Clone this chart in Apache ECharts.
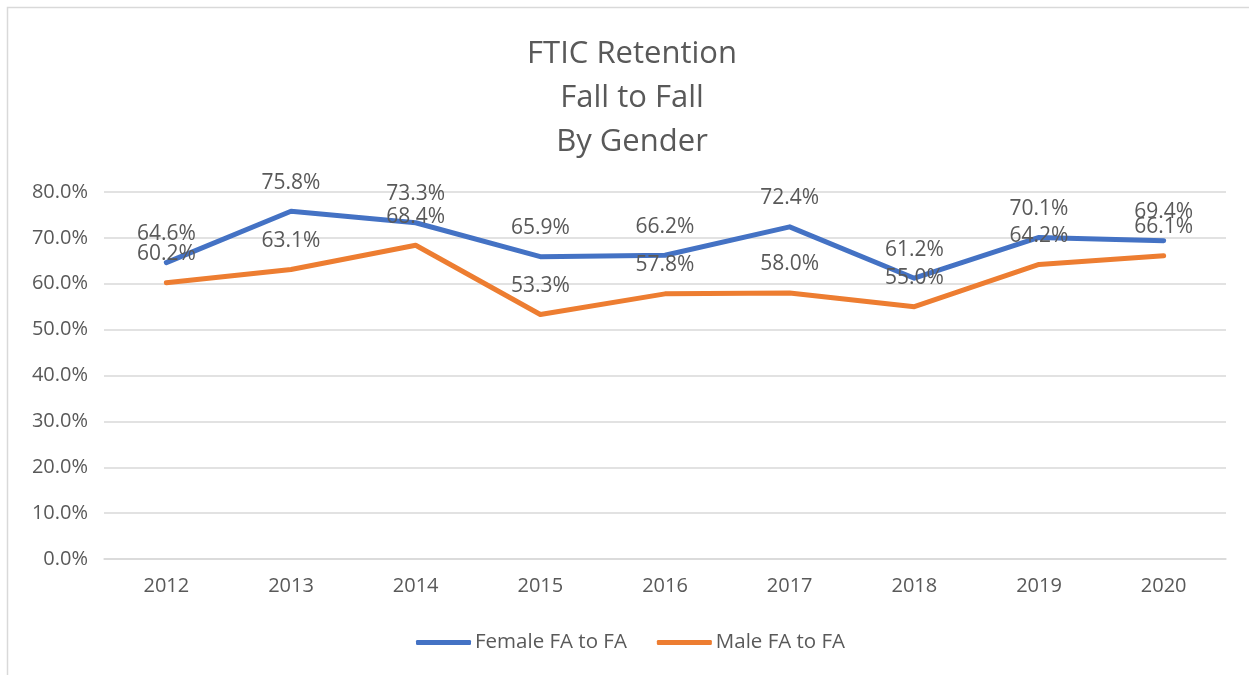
<!DOCTYPE html>
<html>
<head>
<meta charset="utf-8">
<title>FTIC Retention</title>
<script src="https://cdn.jsdelivr.net/npm/echarts@6/dist/echarts.min.js"></script>
<style>
  html, body { margin: 0; padding: 0; background: #fff; }
  #chart { width: 1249px; height: 675px; }
</style>
</head>
<body>
<div id="chart"></div>
<script>
const years = ['2012', '2013', '2014', '2015', '2016', '2017', '2018', '2019', '2020']
const female = [64.6, 75.8, 73.3, 65.9, 66.2, 72.4, 61.2, 70.1, 69.4]
const male = [60.2, 63.1, 68.4, 53.3, 57.8, 58.0, 55.0, 64.2, 66.1]
const seriesNames = ['Female FA to FA', 'Male FA to FA']
const titleLines = ['FTIC Retention', 'Fall to Fall', 'By Gender']

const textColor = '#595959'
const font = '"Open Sans", "Liberation Sans", sans-serif'

function lineSeries(name, data, color) {
  return {
    name,
    type: 'line',
    data,
    // labels hang off the symbols, so keep them but make them invisible
    symbol: 'circle',
    symbolSize: 0,
    showSymbol: true,
    lineStyle: { width: 5, color, cap: 'round', join: 'round' },
    itemStyle: { color },
    label: {
      show: true,
      position: 'top',
      distance: 18,
      color: textColor,
      fontFamily: font,
      fontSize: 21,
      formatter: (p) => Number(p.value).toFixed(1) + '%',
    },
    labelLayout: { hideOverlap: false },
  }
}

const chart = echarts.init(document.getElementById('chart'))
chart.setOption({
  backgroundColor: '#fff',
  animation: false,
  graphic: [
    {
      type: 'rect',
      shape: { x: 7.5, y: 7.5, width: 1300, height: 720 },
      style: { fill: 'none', stroke: '#d9d9d9', lineWidth: 1.5 },
      silent: true,
    },
  ],
  title: {
    text: titleLines.join('\n'),
    left: 627,
    textAlign: 'center',
    top: 27,
    textStyle: {
      color: textColor,
      fontFamily: font,
      fontSize: 31,
      fontWeight: 'normal',
      lineHeight: 44,
    },
  },
  legend: {
    bottom: 17,
    left: 411,
    icon: 'roundRect',
    itemWidth: 55,
    itemHeight: 5,
    itemGap: 30,
    textStyle: { color: textColor, fontFamily: font, fontSize: 20.5, padding: [0, 0, 0, -1] },
    data: seriesNames,
  },
  grid: { left: 104, right: 23, top: 192, bottom: 116 },
  xAxis: {
    type: 'category',
    data: years,
    boundaryGap: true,
    axisLine: { show: true, lineStyle: { color: '#d9d9d9', width: 1.5 } },
    axisTick: { show: false },
    axisLabel: { color: textColor, fontFamily: font, fontSize: 20, margin: 17 },
  },
  yAxis: {
    type: 'value',
    min: 0,
    max: 80,
    interval: 10,
    axisLine: { show: false },
    axisTick: { show: false },
    axisLabel: {
      color: textColor,
      fontFamily: font,
      fontSize: 20,
      margin: 16,
      formatter: (v) => v.toFixed(1) + '%',
    },
    splitLine: { lineStyle: { color: '#d9d9d9', width: 1.5 } },
  },
  series: [
    lineSeries(seriesNames[0], female, '#4472C4'),
    lineSeries(seriesNames[1], male, '#ED7D31'),
  ],
})
</script>
</body>
</html>
